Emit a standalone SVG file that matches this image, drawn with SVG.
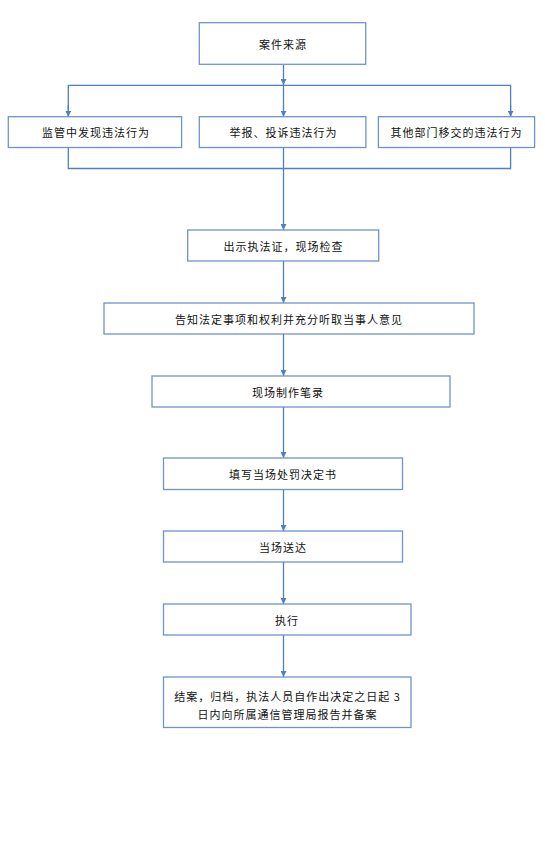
<svg xmlns="http://www.w3.org/2000/svg" width="545" height="856" viewBox="0 0 545 856">
<defs>
<marker id="ah" viewBox="0 0 10 10" refX="10" refY="5" markerWidth="6" markerHeight="6" markerUnits="userSpaceOnUse" orient="auto">
<path d="M0,0 L10,5 L0,10 Z" fill="#4f7fbf"/>
</marker>
<style>
.b{fill:#fff;stroke:#6f93cc;stroke-width:1.3}
.t{font-family:"Noto Sans CJK SC","Liberation Sans",sans-serif;font-size:11px;letter-spacing:1px;fill:#111;text-anchor:middle;dominant-baseline:central}
.c{fill:none;stroke:#4f7fbf;stroke-width:1.3}
</style>
</defs>
<rect width="545" height="856" fill="#fff"/>
<g id="connectors">
<line class="c" x1="283.5" y1="64.3" x2="283.5" y2="85" marker-end="url(#ah)"/>
<line class="c" x1="283.5" y1="85" x2="283.5" y2="116.7" marker-end="url(#ah)"/>
<polyline class="c" points="68.3,116.7 68.3,85.3 510.6,85.3 510.6,116.7"/>
<line class="c" x1="68.3" y1="105" x2="68.3" y2="116.7" marker-end="url(#ah)"/>
<line class="c" x1="510.6" y1="105" x2="510.6" y2="116.7" marker-end="url(#ah)"/>
<polyline class="c" points="68.3,147.5 68.3,168.5 510.6,168.5 510.6,147.5"/>
<line class="c" x1="283.5" y1="147.5" x2="283.5" y2="230" marker-end="url(#ah)"/>
<line class="c" x1="283.5" y1="261" x2="283.5" y2="303" marker-end="url(#ah)"/>
<line class="c" x1="283.5" y1="334" x2="283.5" y2="376" marker-end="url(#ah)"/>
<line class="c" x1="283.5" y1="407" x2="283.5" y2="458" marker-end="url(#ah)"/>
<line class="c" x1="283.5" y1="490" x2="283.5" y2="531" marker-end="url(#ah)"/>
<line class="c" x1="283.5" y1="562" x2="283.5" y2="604" marker-end="url(#ah)"/>
<line class="c" x1="283.5" y1="635" x2="283.5" y2="677" marker-end="url(#ah)"/>
</g>
<g id="n1"><rect class="b" x="199.3" y="22.7" width="166.4" height="41.6"/><text class="t" x="283" y="43.5">案件来源</text></g>
<g id="n2"><rect class="b" x="8.3" y="116.7" width="173.3" height="30.8"/><text class="t" x="96" y="132">监管中发现违法行为</text></g>
<g id="n3"><rect class="b" x="199.3" y="116.7" width="166.6" height="30.8"/><text class="t" x="283.5" y="132">举报、投诉违法行为</text></g>
<g id="n4"><rect class="b" x="378.4" y="116.7" width="156.2" height="30.8"/><text class="t" x="456.5" y="132">其他部门移交的违法行为</text></g>
<g id="n5"><rect class="b" x="187.7" y="230" width="191" height="31"/><text class="t" x="283.5" y="246">出示执法证，现场检查</text></g>
<g id="n6"><rect class="b" x="104" y="303" width="370" height="31"/><text class="t" x="289" y="319">告知法定事项和权利并充分听取当事人意见</text></g>
<g id="n7"><rect class="b" x="152" y="376" width="298" height="31"/><text class="t" x="288" y="391.5">现场制作笔录</text></g>
<g id="n8"><rect class="b" x="163.5" y="458" width="239" height="31.5"/><text class="t" x="283" y="474">填写当场处罚决定书</text></g>
<g id="n9"><rect class="b" x="163.5" y="531" width="239" height="31"/><text class="t" x="283" y="547">当场送达</text></g>
<g id="n10"><rect class="b" x="163.5" y="604" width="247.5" height="31"/><text class="t" x="287" y="620">执行</text></g>
<g id="n11"><rect class="b" x="163.5" y="677" width="247.5" height="50.5"/><text class="t" x="287.5" y="696">结案，归档，执法人员自作出决定之日起 3</text><text class="t" x="287.5" y="713.5">日内向所属通信管理局报告并备案</text></g>
</svg>
